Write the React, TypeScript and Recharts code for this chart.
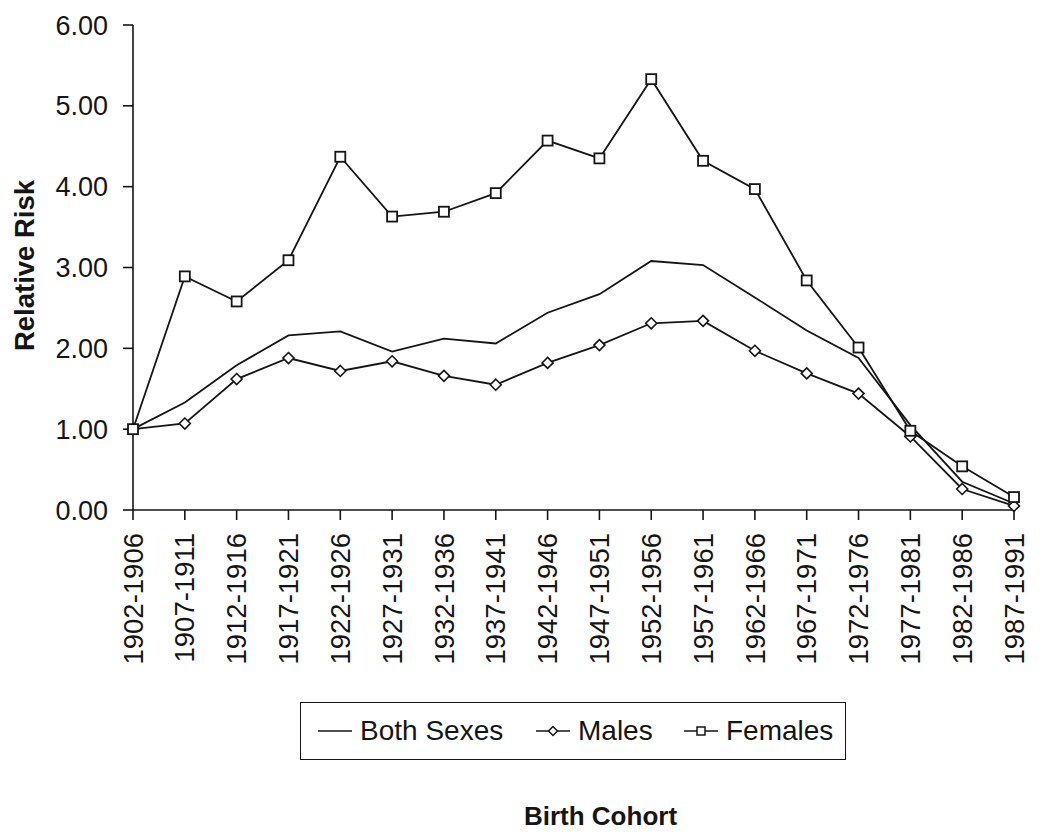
import React from 'react';
import { LineChart, Line, XAxis, YAxis, Legend } from 'recharts';

const cohorts = [
  '1902-1906', '1907-1911', '1912-1916', '1917-1921', '1922-1926', '1927-1931',
  '1932-1936', '1937-1941', '1942-1946', '1947-1951', '1952-1956', '1957-1961',
  '1962-1966', '1967-1971', '1972-1976', '1977-1981', '1982-1986', '1987-1991',
];
const bothSexes = [1.0, 1.33, 1.79, 2.16, 2.21, 1.96, 2.12, 2.06, 2.44, 2.67, 3.08, 3.03, 2.63, 2.22, 1.88, 1.05, 0.35, 0.08];
const males = [1.0, 1.07, 1.62, 1.88, 1.72, 1.84, 1.66, 1.55, 1.82, 2.04, 2.31, 2.34, 1.97, 1.69, 1.44, 0.91, 0.26, 0.05];
const females = [1.0, 2.89, 2.58, 3.09, 4.37, 3.63, 3.69, 3.92, 4.57, 4.35, 5.33, 4.32, 3.97, 2.84, 2.01, 0.98, 0.54, 0.16];
const yTicks = [0, 1, 2, 3, 4, 5, 6];

const data = cohorts.map((c, i) => ({
  cohort: c,
  both: bothSexes[i],
  males: males[i],
  females: females[i],
}));

const FONT = '"Liberation Sans", Arial, Helvetica, sans-serif';
const INK = '#151515';

const SquareDot = (p: any) => (
  <rect key={p.key ?? `sq-${p.index}`} x={p.cx - 5} y={p.cy - 5} width={10} height={10}
    fill="#fff" stroke={INK} strokeWidth={1.8} />
);

const DiamondDot = (p: any) => {
  const { cx, cy } = p;
  const r = 5.5;
  return (
    <polygon key={p.key ?? `dm-${p.index}`}
      points={`${cx},${cy - r} ${cx + r},${cy} ${cx},${cy + r} ${cx - r},${cy}`}
      fill="#fff" stroke={INK} strokeWidth={1.6} />
  );
};

const XTick = (p: any) => {
  const { x, y, payload } = p;
  return (
    <text x={x} y={y} transform={`rotate(-90 ${x} ${y})`} textAnchor="end" dy="0.35em"
      fontSize={27.5} fill={INK} fontFamily={FONT}>
      {payload.value}
    </text>
  );
};

const YTitle = (p: any) => {
  const vb = p.viewBox;
  const cx = 24;
  const cy = vb.y + vb.height / 2 - 2;
  return (
    <text x={cx} y={cy} transform={`rotate(-90 ${cx} ${cy})`} textAnchor="middle" dy="0.36em"
      fontSize={27.5} fontWeight="bold" fill={INK} fontFamily={FONT}>
      Relative Risk
    </text>
  );
};

const XTitle = (p: any) => {
  const vb = p.viewBox;
  return (
    <text x={vb.x + vb.width / 2 + 27} y={vb.y + vb.height - 12} textAnchor="middle"
      fontSize={26} fontWeight="bold" fill={INK} fontFamily={FONT}>
      Birth Cohort
    </text>
  );
};

const legendItems = [
  { name: 'Both Sexes', marker: 'none' },
  { name: 'Males', marker: 'diamond' },
  { name: 'Females', marker: 'square' },
];
const legendLefts = [17, 235, 383];

const LegendBox = () => (
  <div style={{
    position: 'relative', width: '100%', height: '100%', boxSizing: 'border-box',
    border: `1.6px solid ${INK}`, background: '#fff', fontFamily: FONT,
  }}>
    {legendItems.map((it, i) => (
      <div key={it.name} style={{
        position: 'absolute', left: legendLefts[i], top: 0, bottom: 0,
        display: 'flex', alignItems: 'center', whiteSpace: 'nowrap',
      }}>
        <svg width={34} height={20} style={{ marginRight: 8 }}>
          <line x1={0} y1={10} x2={34} y2={10} stroke={INK} strokeWidth={1.6} />
          {it.marker === 'diamond' && (
            <polygon points="17,5.5 21.5,10 17,14.5 12.5,10" fill="#fff" stroke={INK} strokeWidth={1.5} />
          )}
          {it.marker === 'square' && (
            <rect x={13} y={6} width={8} height={8} fill="#fff" stroke={INK} strokeWidth={1.5} />
          )}
        </svg>
        <span style={{ fontSize: 28, color: INK, lineHeight: 1 }}>{it.name}</span>
      </div>
    ))}
  </div>
);

export default function App() {
  return (
    <div style={{ position: 'absolute', left: 0, top: 0, width: 1050, height: 837, background: '#fff' }}>
      <LineChart width={1050} height={837} data={data} margin={{ top: 25, right: 36, left: 0, bottom: 0 }}>
        <XAxis
          dataKey="cohort"
          interval={0}
          height={327}
          tick={<XTick />}
          tickSize={10}
          tickMargin={13}
          stroke={INK}
          strokeWidth={1.6}
          label={{ content: <XTitle /> }}
        />
        <YAxis
          width={133}
          domain={[0, 6]}
          ticks={yTicks}
          tickFormatter={(v: number) => v.toFixed(2)}
          tickSize={10}
          tickMargin={15}
          stroke={INK}
          strokeWidth={1.6}
          tick={{ fontSize: 27, fill: INK, fontFamily: FONT }}
          label={{ content: <YTitle /> }}
        />
        <Legend
          layout="horizontal"
          verticalAlign="middle"
          align="center"
          wrapperStyle={{ left: 300, top: 702, width: 546, height: 58 }}
          content={<LegendBox />}
        />
        <Line type="linear" dataKey="both" name="Both Sexes" stroke={INK} strokeWidth={1.8}
          dot={false} activeDot={false} isAnimationActive={false} />
        <Line type="linear" dataKey="males" name="Males" stroke={INK} strokeWidth={1.8}
          dot={DiamondDot} activeDot={false} isAnimationActive={false} />
        <Line type="linear" dataKey="females" name="Females" stroke={INK} strokeWidth={1.8}
          dot={SquareDot} activeDot={false} isAnimationActive={false} />
      </LineChart>
    </div>
  );
}
